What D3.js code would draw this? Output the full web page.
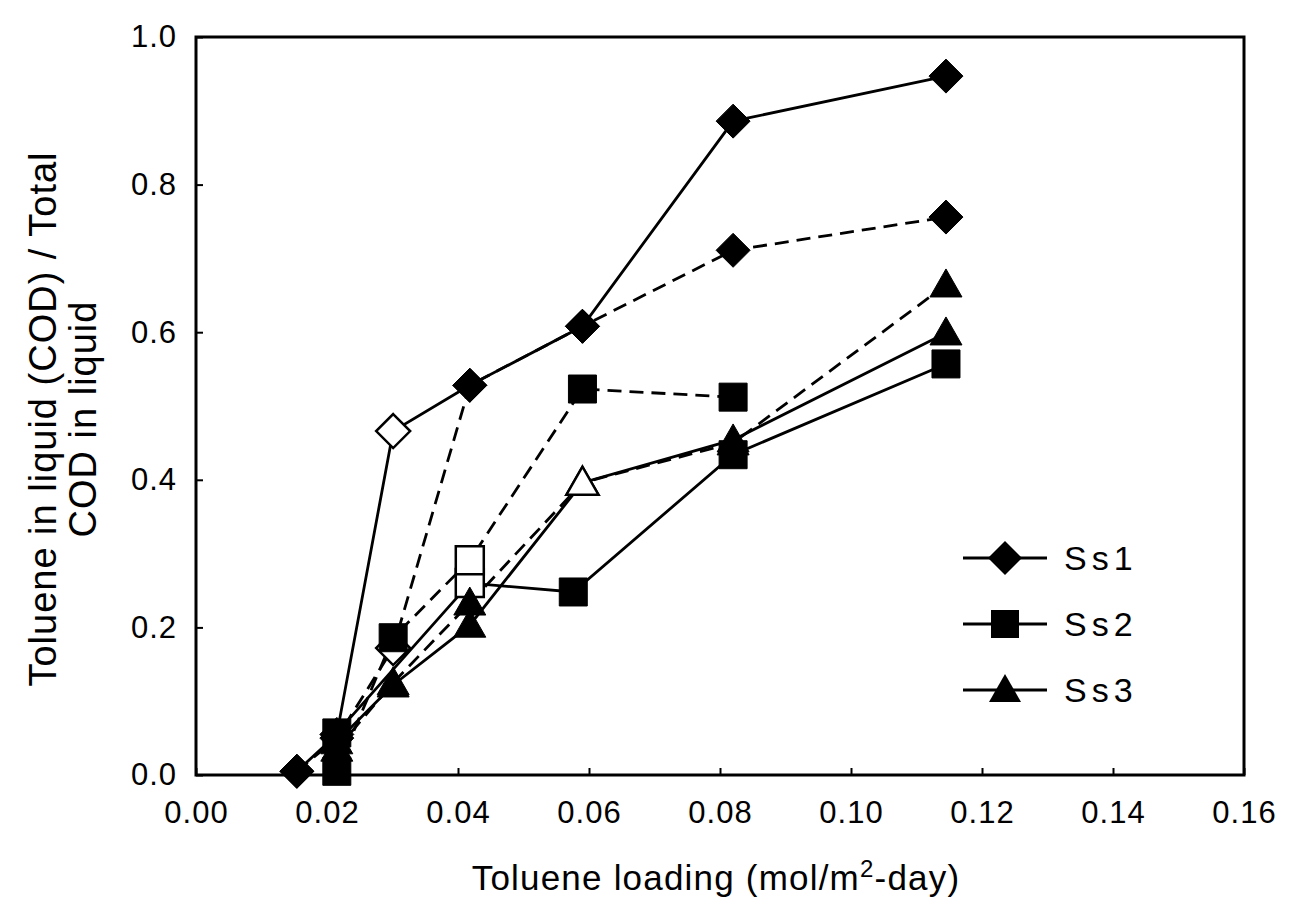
<!DOCTYPE html>
<html>
<head>
<meta charset="utf-8">
<script src="https://cdn.jsdelivr.net/npm/d3@7"></script>
<style>
  body { margin: 0; background: #fff; }
  svg text { font-family: Arial, "Liberation Sans", sans-serif; fill: #000; }
</style>
</head>
<body>
<div id="chart"></div>
<script>
// data
const ss1SolidX = [0.0154, 0.0215, 0.0301, 0.0418, 0.0590, 0.0820, 0.1145];
const ss1SolidY = [0.005, 0.055, 0.466, 0.528, 0.608, 0.886, 0.947];
const ss1DashX = [0.0154, 0.0215, 0.0301, 0.0418, 0.0590, 0.0820, 0.1145];
const ss1DashY = [0.005, 0.050, 0.172, 0.528, 0.608, 0.711, 0.756];
const ss2SolidX = [0.0215, 0.0418, 0.0576, 0.0820, 0.1145];
const ss2SolidY = [0.057, 0.260, 0.248, 0.434, 0.557];
const ss2DashX = [0.0215, 0.0301, 0.0418, 0.0590, 0.0820];
const ss2DashY = [0.005, 0.186, 0.291, 0.523, 0.512];
const ss3SolidX = [0.0215, 0.0301, 0.0418, 0.0590, 0.0820, 0.1145];
const ss3SolidY = [0.045, 0.122, 0.203, 0.396, 0.454, 0.599];
const ss3DashX = [0.0215, 0.0301, 0.0418, 0.0590, 0.0820, 0.1145];
const ss3DashY = [0.035, 0.125, 0.233, 0.396, 0.450, 0.664];

// which points are drawn as open markers
const ss1SolidOpen = [2];
const ss1DashOpen = [2];
const ss2SolidOpen = [1];
const ss2DashOpen = [2];
const ss3SolidOpen = [3];
const ss3DashOpen = [3];

const xTicks = [0, 0.02, 0.04, 0.06, 0.08, 0.10, 0.12, 0.14, 0.16];
const yTicks = [0, 0.2, 0.4, 0.6, 0.8, 1.0];
const legendNames = ['Ss1', 'Ss2', 'Ss3'];

const series = [
  {x: ss1SolidX, y: ss1SolidY, open: ss1SolidOpen, shape: 'diamond', dash: null},
  {x: ss1DashX, y: ss1DashY, open: ss1DashOpen, shape: 'diamond', dash: '14,8'},
  {x: ss2SolidX, y: ss2SolidY, open: ss2SolidOpen, shape: 'square', dash: null},
  {x: ss2DashX, y: ss2DashY, open: ss2DashOpen, shape: 'square', dash: '14,8'},
  {x: ss3SolidX, y: ss3SolidY, open: ss3SolidOpen, shape: 'triangle', dash: null},
  {x: ss3DashX, y: ss3DashY, open: ss3DashOpen, shape: 'triangle', dash: '14,8'}
];

const width = 1290, height = 906;
const margin = {t: 37, r: 46, b: 131, l: 196};
const w = width - margin.l - margin.r;
const h = height - margin.t - margin.b;

const svg = d3.select('#chart').append('svg')
  .attr('width', width)
  .attr('height', height);

const plot = svg.append('g')
  .attr('transform', `translate(${margin.l},${margin.t})`);

const x = d3.scaleLinear().domain([0, 0.16]).range([0, w]);
const y = d3.scaleLinear().domain([0, 1.0]).range([h, 0]);

// marker shapes
function markerPath(shape) {
  if (shape === 'diamond') return 'M0,-17L17,0L0,17L-17,0Z';
  if (shape === 'square') return 'M-14,-14H14V14H-14Z';
  return 'M0,-16L16,12H-16Z';
}

// axes, ticks pointing inward
const xAxis = plot.append('g')
  .attr('transform', `translate(0,${h})`)
  .call(d3.axisBottom(x).tickValues(xTicks).tickSize(-7).tickPadding(26)
    .tickFormat(d3.format('.2f')));
const yAxis = plot.append('g')
  .call(d3.axisLeft(y).tickValues(yTicks).tickSize(-7).tickPadding(19)
    .tickFormat(d3.format('.1f')));

[xAxis, yAxis].forEach(a => {
  a.select('.domain').remove();
  a.selectAll('line').attr('stroke', '#000').attr('stroke-width', 2);
  a.selectAll('text')
    .style('font-size', '31px')
    .style('letter-spacing', '1px')
    .style('font-family', 'Arial, "Liberation Sans", sans-serif');
});
xAxis.selectAll('text').attr('dy', '0.71em');

// frame
plot.append('rect')
  .attr('width', w)
  .attr('height', h)
  .attr('fill', 'none')
  .attr('stroke', '#000')
  .attr('stroke-width', 3);

// lines
const line = d3.line().x(d => x(d[0])).y(d => y(d[1]));
series.forEach(s => {
  const pts = s.x.map((v, i) => [v, s.y[i]]);
  plot.append('path')
    .datum(pts)
    .attr('d', line)
    .attr('fill', 'none')
    .attr('stroke', '#000')
    .attr('stroke-width', 2.8)
    .attr('stroke-dasharray', s.dash);
});

// markers
series.forEach(s => {
  const pts = s.x.map((v, i) => ({x: v, y: s.y[i], open: s.open.includes(i)}));
  plot.selectAll(null)
    .data(pts)
    .enter()
    .append('path')
    .attr('d', markerPath(s.shape))
    .attr('transform', d => `translate(${x(d.x)},${y(d.y)})`)
    .attr('fill', d => d.open ? '#fff' : '#000')
    .attr('stroke', '#000')
    .attr('stroke-width', d => d.open ? 2.5 : 1);
});

// legend
const legend = svg.append('g').attr('transform', 'translate(963,558)');
legendNames.forEach((name, i) => {
  const g = legend.append('g').attr('transform', `translate(0,${i * 66})`);
  g.append('line')
    .attr('x1', 0).attr('x2', 84)
    .attr('stroke', '#000').attr('stroke-width', 3);
  g.append('path')
    .attr('d', markerPath(['diamond', 'square', 'triangle'][i]))
    .attr('transform', 'translate(42,0)')
    .attr('fill', '#000');
  g.append('text')
    .attr('x', 101)
    .attr('dy', '0.36em')
    .style('font-size', '34px')
    .style('letter-spacing', '5px')
    .text(name);
});

// axis titles
const xt = svg.append('text')
  .attr('x', margin.l + w / 2 - 4)
  .attr('y', 890)
  .attr('text-anchor', 'middle')
  .style('font-size', '35px')
  .style('letter-spacing', '1.2px');
xt.append('tspan').text('Toluene loading (mol/m');
xt.append('tspan').attr('dy', -13).style('font-size', '24px').text('2');
xt.append('tspan').attr('dy', 13).text('-day)');

const yt = svg.append('g')
  .attr('transform', `translate(0,${margin.t + h / 2 + 13}) rotate(-90)`);
yt.append('text')
  .attr('y', 56)
  .attr('text-anchor', 'middle')
  .style('font-size', '38px')
  .style('letter-spacing', '1px')
  .text('Toluene in liquid (COD) / Total');
yt.append('text')
  .attr('y', 96)
  .attr('text-anchor', 'middle')
  .style('font-size', '38px')
  .style('letter-spacing', '1px')
  .text('COD in liquid');
</script>
</body>
</html>
